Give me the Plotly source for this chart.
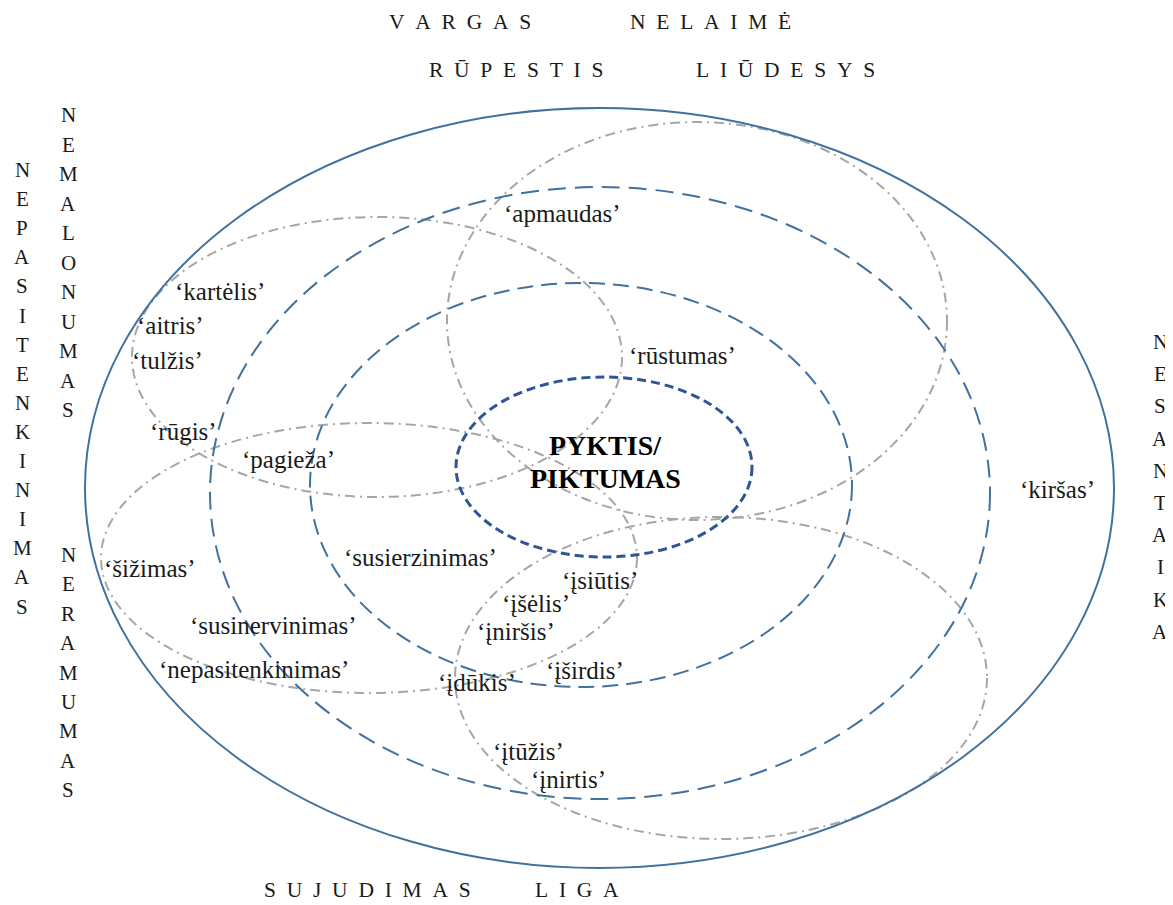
import plotly.graph_objects as go

# ---- data -----------------------------------------------------------------
# concentric fields (centre x, centre y, radius x, radius y) in picture units
field_names = ["outer", "large", "medium", "core"]
field_cx = [599.5, 600, 581, 604]
field_cy = [488, 493, 485, 467]
field_rx = [514.5, 390, 271, 148]
field_ry = [380, 306, 202, 90]

# overlapping neighbouring fields (grey dash-dot)
zone_names = ["nemalonumas", "vargas", "neramumas", "sujudimas"]
zone_cx = [377, 697, 369, 721]
zone_cy = [357, 321, 558, 678]
zone_rx = [245, 250, 268, 266]
zone_ry = [140, 199, 135, 161]

# word labels
words = ["‘kartėlis’", "‘aitris’", "‘tulžis’", "‘rūgis’", "‘pagieža’",
         "‘apmaudas’", "‘rūstumas’", "‘kiršas’", "‘šižimas’", "‘susierzinimas’",
         "‘įsiūtis’", "‘įšėlis’", "‘įniršis’", "‘susinervinimas’",
         "‘nepasitenkinimas’", "‘įdūkis’", "‘įširdis’", "‘įtūžis’", "‘įnirtis’"]
word_x = [220, 170, 167, 183, 288, 562, 682, 1057, 150, 420,
          600, 536, 516, 273, 254, 477, 585, 528, 568]
word_y = [291, 325, 360, 431, 459, 213, 355, 489, 568, 557,
          580, 603, 631, 625, 669, 682, 670, 751, 779]

centre_lines = ["PYKTIS/", "PIKTUMAS"]
centre_x = [605, 605]
centre_y = [445, 478]

# horizontal concept headings
heads = ["VARGAS", "NELAIMĖ", "RŪPESTIS", "LIŪDESYS", "SUJUDIMAS", "LIGA"]
head_x = [460, 710, 516, 785, 367, 577]
head_y = [22, 22, 70, 70, 890, 890]

# vertical concept headings
vheads = ["NEPASITENKINIMAS", "NEMALONUMAS", "NERAMUMAS", "NESANTAIKA"]
vhead_x = [22, 68, 68, 1160]
vhead_y0 = [170, 115, 555, 342]
vhead_step = [29.1, 29.5, 29.4, 32.2]

# ---- styles ---------------------------------------------------------------
BLUE = "#41719C"
DARK = "#2F5597"
GREY = "#A6A6A6"
SERIF = "Liberation Serif, Times New Roman, serif"
OFF = 8  # page margin of the html body

field_style = [
    dict(color=BLUE, width=2, dash="solid"),
    dict(color=BLUE, width=2, dash="18px,9px"),
    dict(color=BLUE, width=2, dash="16px,8px"),
    dict(color=DARK, width=3, dash="9px,5px"),
]
zone_style = dict(color=GREY, width=2, dash="10px,5px,2px,5px")

fig = go.Figure()
# invisible trace to establish the axes
fig.add_trace(go.Scatter(x=[OFF, 1173], y=[OFF, 905], mode="markers",
                         marker=dict(opacity=0), hoverinfo="skip", showlegend=False))

shapes = []
for cx, cy, rx, ry in zip(zone_cx, zone_cy, zone_rx, zone_ry):
    shapes.append(dict(type="circle", xref="x", yref="y",
                       x0=cx - rx, x1=cx + rx, y0=cy - ry, y1=cy + ry,
                       line=zone_style, fillcolor="rgba(0,0,0,0)"))
for (cx, cy, rx, ry), st in zip(zip(field_cx, field_cy, field_rx, field_ry), field_style):
    shapes.append(dict(type="circle", xref="x", yref="y",
                       x0=cx - rx, x1=cx + rx, y0=cy - ry, y1=cy + ry,
                       line=st, fillcolor="rgba(0,0,0,0)"))

ann = []
for t, x, y in zip(words, word_x, word_y):
    ann.append(dict(x=x, y=y, xref="x", yref="y", text=t, showarrow=False,
                    font=dict(family=SERIF, size=25, color="#1a1a1a")))
for t, x, y in zip(centre_lines, centre_x, centre_y):
    ann.append(dict(x=x, y=y, xref="x", yref="y", text="<b>" + t + "</b>",
                    showarrow=False, font=dict(family=SERIF, size=28, color="#000")))
for t, x, y in zip(heads, head_x, head_y):
    ann.append(dict(x=x, y=y, xref="x", yref="y", text="\u2002".join(t),
                    showarrow=False, font=dict(family=SERIF, size=21.5, color="#1a1a1a")))
for t, x, y0, st in zip(vheads, vhead_x, vhead_y0, vhead_step):
    for i, ch in enumerate(t):
        ann.append(dict(x=x, y=y0 + i * st, xref="x", yref="y", text=ch,
                        showarrow=False, font=dict(family=SERIF, size=21, color="#1a1a1a")))

fig.update_layout(
    width=1173 - OFF, height=905 - OFF,
    margin=dict(l=0, r=0, t=0, b=0),
    paper_bgcolor="white", plot_bgcolor="white",
    xaxis=dict(range=[OFF, 1173], visible=False, fixedrange=True),
    yaxis=dict(range=[905, OFF], visible=False, fixedrange=True),
    shapes=shapes, annotations=ann, showlegend=False,
)
fig.write_html("out.html")
